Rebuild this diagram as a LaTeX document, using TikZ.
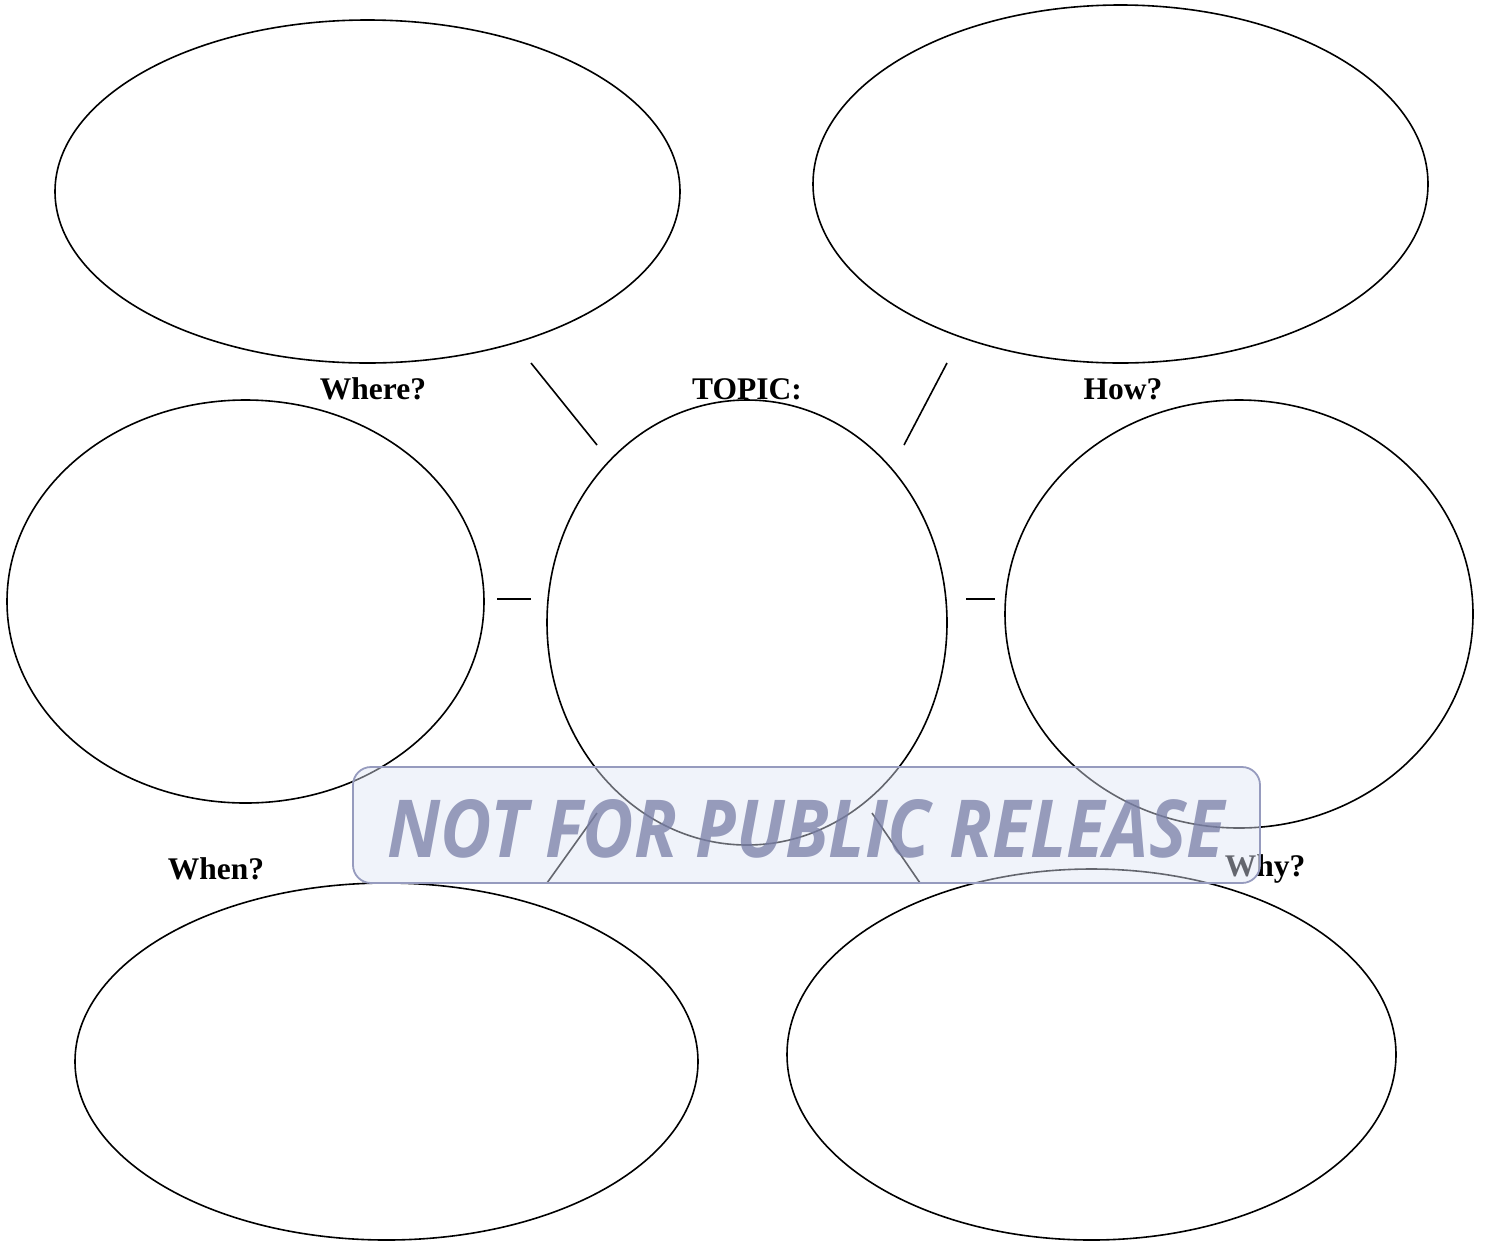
\documentclass[tikz,border=0pt]{standalone}
\usepackage{fontspec}
\setmainfont{Liberation Serif}
\newfontfamily\wmfont{Open Sans}
\usetikzlibrary{shapes.geometric}
\definecolor{wmtext}{RGB}{120,126,166}
\definecolor{wmfill}{RGB}{222,228,245}
\definecolor{wmline}{RGB}{150,155,190}
\begin{document}
\begin{tikzpicture}[x=1pt,y=-1pt,
  bubble/.style={draw=black, line width=1.6pt, ellipse, inner sep=0pt},
  link/.style={draw=black, line width=1.6pt},
  lbl/.style={font=\fontsize{31.5}{34}\selectfont\bfseries, inner sep=0pt}]
\useasboundingbox (0,0) rectangle (1486,1243);
% ellipses
\node[bubble, minimum width=625pt, minimum height=343pt] (where) at (367.5,191.5) {};
\node[bubble, minimum width=615pt, minimum height=358pt] (how) at (1120.5,184) {};
\node[bubble, minimum width=477pt, minimum height=403pt] (left) at (245.5,601.5) {};
\node[bubble, minimum width=400pt, minimum height=445pt] (topic) at (747,622.5) {};
\node[bubble, minimum width=468pt, minimum height=428pt] (right) at (1239,614) {};
\node[bubble, minimum width=623pt, minimum height=357pt] (when) at (386.5,1061.5) {};
\node[bubble, minimum width=609pt, minimum height=371pt] (why) at (1091.5,1054.5) {};
% connectors
\coordinate (a1) at (531,363); \coordinate (a2) at (597,445);
\coordinate (b1) at (947,363); \coordinate (b2) at (904,445);
\coordinate (c1) at (497,599); \coordinate (c2) at (531,599);
\coordinate (d1) at (966,599); \coordinate (d2) at (995,599);
\coordinate (e1) at (597,813); \coordinate (e2) at (547,883);
\coordinate (f1) at (872,813); \coordinate (f2) at (920,883);
\draw[link] (a1) -- (a2);
\draw[link] (b1) -- (b2);
\draw[link] (c1) -- (c2);
\draw[link] (d1) -- (d2);
\draw[link] (e1) -- (e2);
\draw[link] (f1) -- (f2);
% labels
\node[lbl] (lwhere) at (373,389) {Where?};
\node[lbl] (ltopic) at (747,389) {TOPIC:};
\node[lbl] (lhow) at (1123,389) {How?};
\node[lbl] (lwhen) at (216,869) {When?};
\node[lbl] (lwhy) at (1265,869) {Why?};
% watermark
\node[draw=wmline, line width=1.8pt, fill=wmfill, fill opacity=0.45, draw opacity=1,
  rounded corners=18pt, minimum width=907pt, minimum height=116pt, inner sep=0pt] (wmbox) at (806.5,825) {};
\node[text=wmtext, text opacity=0.75, inner sep=0pt, xscale=0.88,
  font=\wmfont\bfseries\itshape\fontsize{80}{80}\selectfont] (wm) at (806,829) {NOT FOR PUBLIC RELEASE};
\end{tikzpicture}
\end{document}
